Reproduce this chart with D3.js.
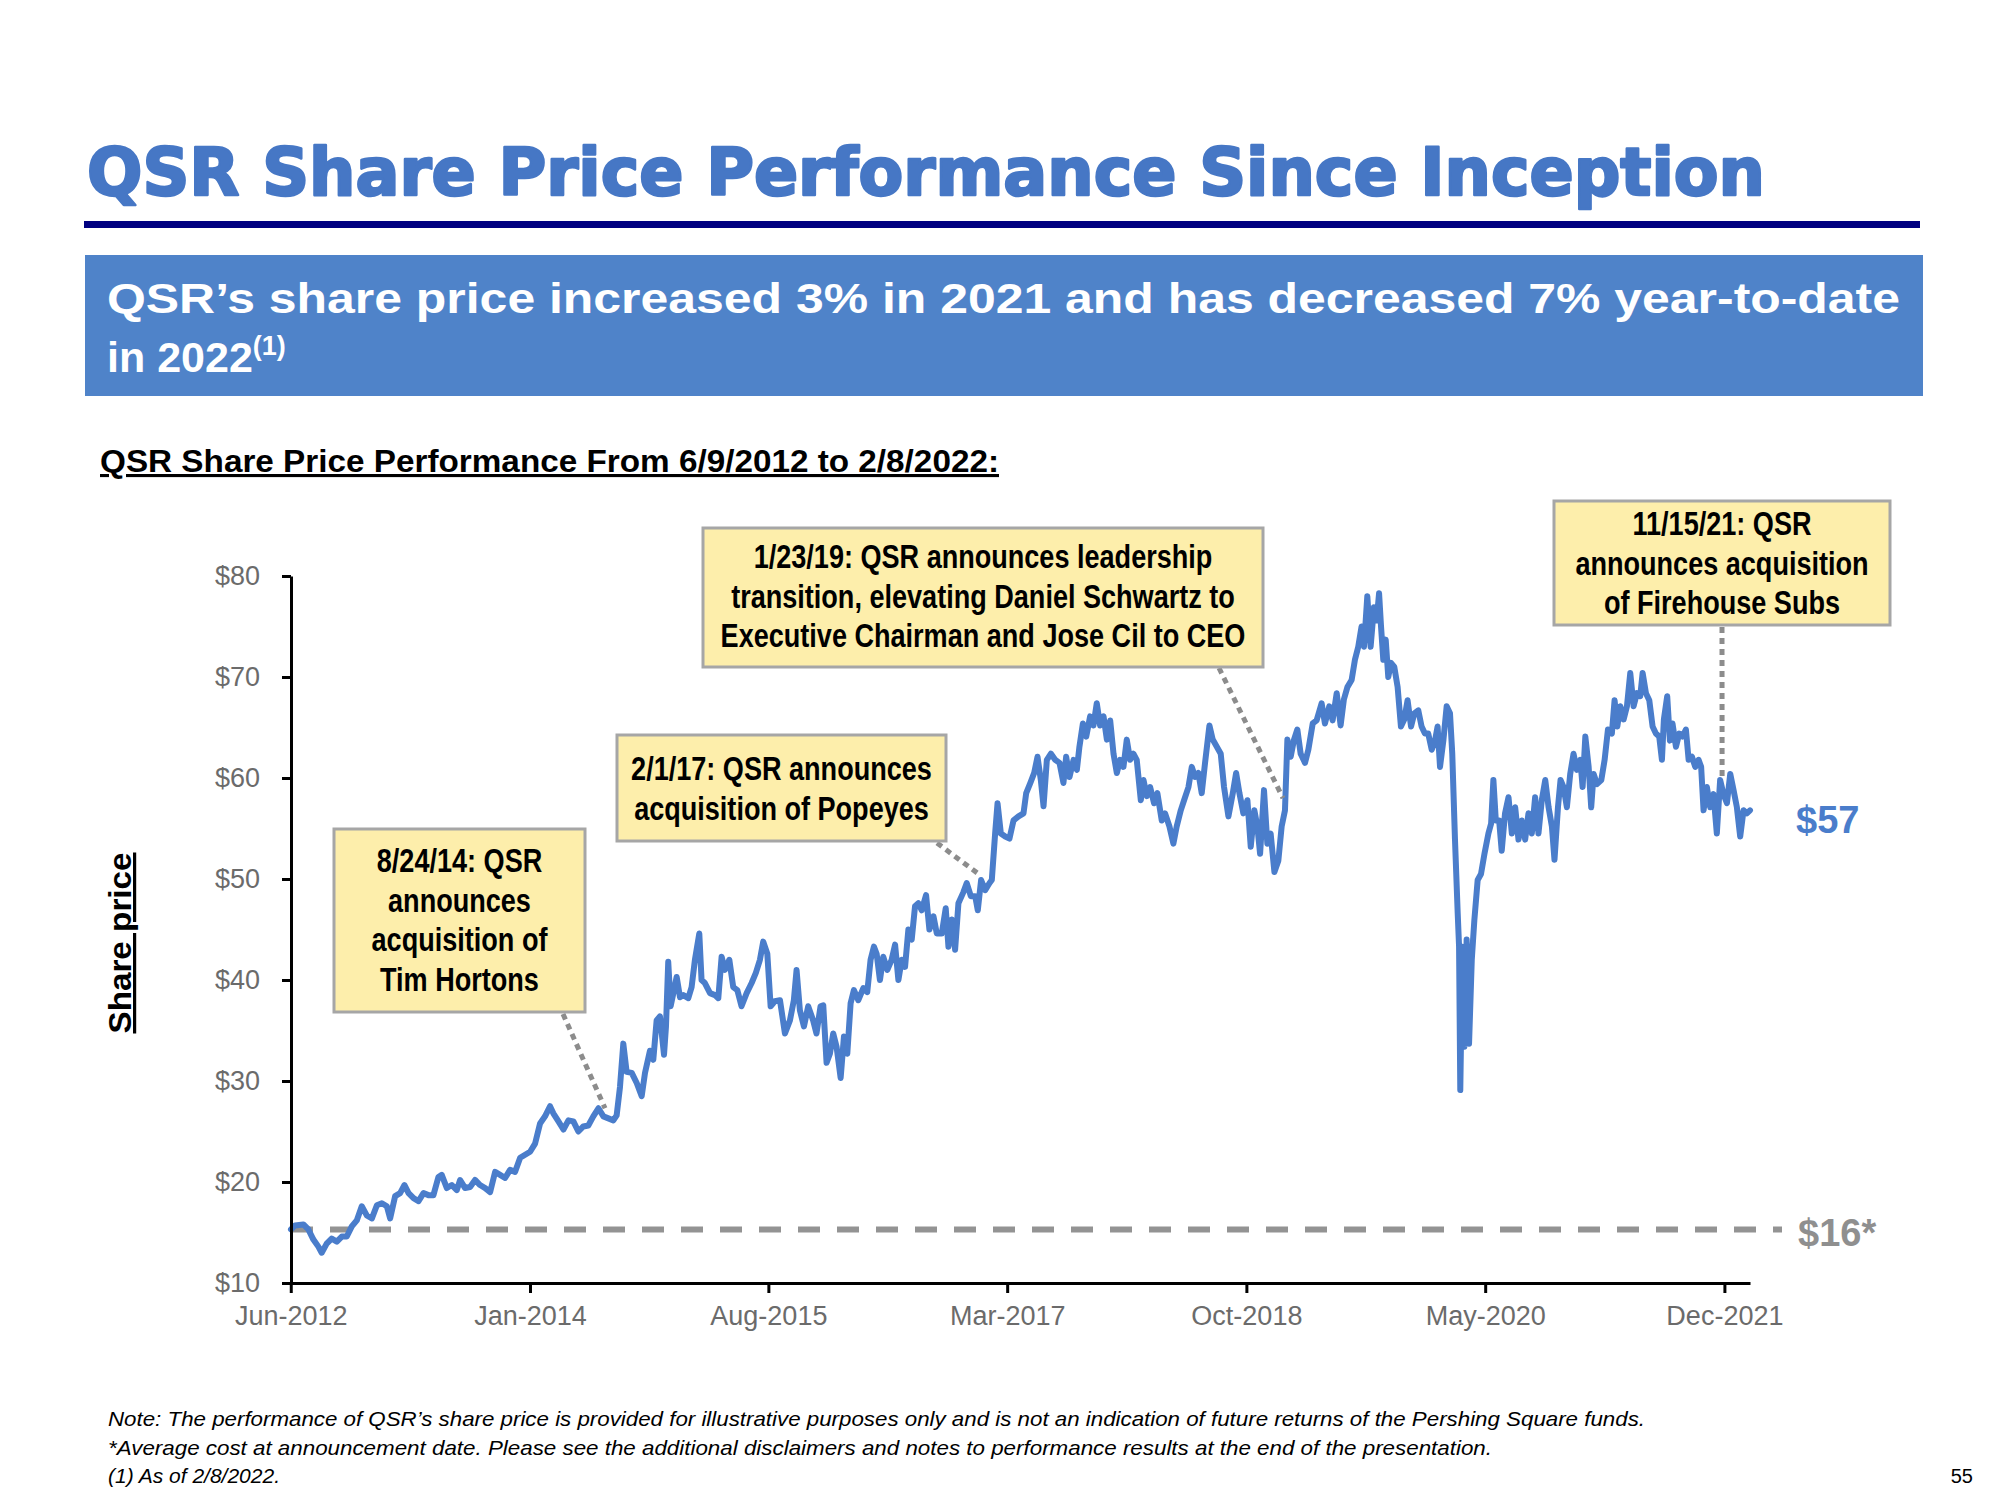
<!DOCTYPE html>
<html><head><meta charset="utf-8">
<script src="https://cdn.jsdelivr.net/npm/d3@7/dist/d3.min.js"></script>
<style>body{margin:0;background:#fff}</style>
</head><body>
<svg id="c" width="2000" height="1500" xmlns="http://www.w3.org/2000/svg"></svg>
<script>
// ---------- DATA ----------
// [decimal year, share price $]
const priceSeries = [
[2012.436,15.3],[2012.463,15.7],[2012.518,15.8],[2012.551,15.3],[2012.584,14.3],[2012.617,13.6],[2012.639,13.0],[2012.672,13.9],
[2012.705,14.4],[2012.739,14.1],[2012.772,14.6],[2012.805,14.6],[2012.838,15.6],[2012.871,16.2],[2012.904,17.6],[2012.937,16.7],
[2012.971,16.4],[2013.004,17.7],[2013.037,17.9],[2013.070,17.6],[2013.092,16.4],[2013.125,18.6],[2013.158,18.9],[2013.187,19.7],
[2013.214,18.9],[2013.247,18.4],[2013.280,18.1],[2013.313,18.9],[2013.346,18.7],[2013.379,18.7],[2013.412,20.5],[2013.434,20.7],
[2013.468,19.4],[2013.501,19.7],[2013.534,19.2],[2013.556,20.2],[2013.589,19.4],[2013.622,19.5],[2013.655,20.2],[2013.688,19.7],
[2013.722,19.4],[2013.755,19.0],[2013.788,21.0],[2013.821,20.7],[2013.854,20.4],[2013.887,21.2],[2013.920,21.0],[2013.954,22.4],
[2013.987,22.7],[2014.020,23.0],[2014.053,23.8],[2014.086,25.8],[2014.119,26.5],[2014.152,27.5],[2014.174,26.8],[2014.208,26.0],
[2014.241,25.2],[2014.274,26.1],[2014.307,26.0],[2014.340,25.0],[2014.373,25.5],[2014.406,25.6],[2014.439,26.5],[2014.473,27.3],
[2014.506,26.5],[2014.539,26.3],[2014.572,26.1],[2014.594,26.6],[2014.616,29.4],[2014.638,33.7],[2014.660,30.9],[2014.694,30.8],
[2014.727,29.8],[2014.760,28.5],[2014.782,30.8],[2014.815,33.0],[2014.837,32.1],[2014.859,36.0],[2014.881,36.4],[2014.908,32.6],
[2014.921,35.4],[2014.936,41.8],[2014.952,37.4],[2014.970,38.7],[2014.992,40.3],[2015.014,38.3],[2015.036,38.5],[2015.069,38.2],
[2015.091,39.3],[2015.113,42.0],[2015.142,44.6],[2015.157,40.0],[2015.179,39.7],[2015.213,38.7],[2015.246,38.5],[2015.268,38.2],
[2015.290,42.3],[2015.312,41.0],[2015.341,42.0],[2015.367,39.3],[2015.394,39.0],[2015.422,37.4],[2015.456,38.7],[2015.489,39.7],
[2015.517,40.7],[2015.544,42.0],[2015.566,43.8],[2015.593,42.6],[2015.615,37.4],[2015.643,37.9],[2015.677,38.0],[2015.710,34.7],
[2015.743,36.0],[2015.769,38.0],[2015.787,41.0],[2015.809,37.0],[2015.836,35.4],[2015.864,37.4],[2015.897,36.0],[2015.919,34.7],
[2015.946,37.4],[2015.964,37.5],[2015.986,31.8],[2016.008,32.7],[2016.030,34.7],[2016.052,33.4],[2016.079,30.3],[2016.101,34.4],
[2016.123,32.7],[2016.145,37.7],[2016.167,39.0],[2016.196,38.0],[2016.229,39.2],[2016.255,38.8],[2016.277,42.0],[2016.299,43.3],
[2016.317,42.6],[2016.339,40.0],[2016.361,42.3],[2016.388,41.0],[2016.416,42.0],[2016.439,43.5],[2016.461,40.0],[2016.483,42.0],
[2016.505,41.3],[2016.527,45.0],[2016.549,44.0],[2016.571,47.3],[2016.593,47.6],[2016.615,46.9],[2016.644,48.4],[2016.666,45.0],
[2016.693,46.3],[2016.715,44.6],[2016.748,44.6],[2016.774,47.1],[2016.792,43.3],[2016.814,46.0],[2016.836,43.0],[2016.858,47.6],
[2016.891,48.7],[2016.913,49.6],[2016.940,48.3],[2016.969,48.3],[2016.986,46.9],[2017.008,49.9],[2017.035,48.9],[2017.064,49.6],
[2017.079,49.9],[2017.101,54.5],[2017.117,57.5],[2017.139,54.5],[2017.168,54.2],[2017.196,54.0],[2017.223,55.8],[2017.256,56.2],
[2017.289,56.5],[2017.307,58.5],[2017.334,59.5],[2017.360,60.5],[2017.382,62.1],[2017.404,59.8],[2017.422,57.2],[2017.444,61.8],
[2017.471,62.4],[2017.499,61.8],[2017.528,61.5],[2017.554,59.5],[2017.572,62.1],[2017.594,60.1],[2017.621,61.8],[2017.643,60.8],
[2017.660,63.1],[2017.683,65.4],[2017.705,64.1],[2017.731,66.1],[2017.753,65.2],[2017.775,67.4],[2017.797,65.2],[2017.820,66.1],
[2017.842,63.8],[2017.864,65.7],[2017.886,62.4],[2017.908,60.5],[2017.930,61.8],[2017.952,61.1],[2017.974,63.8],[2017.996,61.8],
[2018.018,62.4],[2018.040,61.8],[2018.067,57.8],[2018.085,59.8],[2018.107,58.2],[2018.129,59.1],[2018.155,57.5],[2018.177,58.5],
[2018.206,55.8],[2018.228,56.5],[2018.257,55.2],[2018.283,53.5],[2018.305,55.2],[2018.332,56.8],[2018.354,57.8],[2018.383,59.1],
[2018.405,61.1],[2018.427,60.1],[2018.449,60.5],[2018.471,58.5],[2018.493,61.5],[2018.522,65.2],[2018.544,63.8],[2018.571,63.1],
[2018.597,62.4],[2018.619,59.1],[2018.648,56.2],[2018.677,58.5],[2018.699,60.5],[2018.721,58.5],[2018.747,56.5],[2018.774,57.8],
[2018.796,53.2],[2018.820,56.8],[2018.840,55.2],[2018.858,52.5],[2018.884,58.8],[2018.906,53.5],[2018.928,54.5],[2018.953,50.7],
[2018.979,51.8],[2019.001,55.2],[2019.023,56.8],[2019.039,63.8],[2019.061,62.1],[2019.083,63.8],[2019.105,64.8],[2019.127,62.4],
[2019.156,61.5],[2019.178,62.8],[2019.207,65.4],[2019.233,65.7],[2019.266,67.4],[2019.288,65.4],[2019.317,67.1],[2019.339,65.7],
[2019.366,68.4],[2019.392,65.2],[2019.414,67.8],[2019.437,69.0],[2019.465,69.7],[2019.487,71.7],[2019.509,73.0],[2019.531,75.0],
[2019.547,73.0],[2019.569,78.0],[2019.591,73.0],[2019.613,76.9],[2019.631,75.6],[2019.647,78.3],[2019.660,75.0],[2019.675,71.7],
[2019.691,73.7],[2019.708,70.0],[2019.726,71.4],[2019.748,71.0],[2019.770,69.0],[2019.792,65.1],[2019.814,65.8],[2019.836,67.7],
[2019.859,65.1],[2019.881,66.4],[2019.907,66.7],[2019.929,65.1],[2019.951,64.4],[2019.973,64.4],[2019.996,62.8],[2020.018,63.7],
[2020.035,65.1],[2020.051,61.1],[2020.073,63.7],[2020.095,67.1],[2020.117,66.4],[2020.132,62.4],[2020.150,53.9],[2020.168,46.6],
[2020.177,43.3],[2020.185,29.1],[2020.199,43.3],[2020.212,33.4],[2020.227,44.0],[2020.243,33.7],[2020.261,42.0],[2020.278,45.9],
[2020.300,49.9],[2020.322,50.5],[2020.345,52.5],[2020.371,54.5],[2020.389,55.5],[2020.404,59.8],[2020.420,55.8],[2020.442,55.8],
[2020.459,52.8],[2020.481,56.5],[2020.504,58.1],[2020.526,54.5],[2020.548,57.1],[2020.570,53.9],[2020.592,55.8],[2020.614,53.9],
[2020.636,56.5],[2020.658,54.5],[2020.680,58.1],[2020.702,54.5],[2020.724,57.8],[2020.747,59.8],[2020.769,57.1],[2020.791,55.2],
[2020.808,51.9],[2020.831,57.1],[2020.848,59.8],[2020.868,59.1],[2020.890,57.1],[2020.912,60.4],[2020.934,62.4],[2020.956,60.8],
[2020.979,61.8],[2020.994,59.1],[2021.012,64.1],[2021.034,61.1],[2021.051,57.1],[2021.067,60.4],[2021.089,59.4],[2021.118,59.8],
[2021.140,61.8],[2021.162,64.8],[2021.188,64.4],[2021.206,67.7],[2021.224,65.1],[2021.244,67.1],[2021.266,65.8],[2021.288,67.1],
[2021.310,70.4],[2021.332,67.1],[2021.354,68.4],[2021.376,68.1],[2021.392,70.4],[2021.414,68.4],[2021.436,67.7],[2021.458,65.1],
[2021.480,64.4],[2021.502,64.1],[2021.520,61.8],[2021.533,65.8],[2021.555,68.1],[2021.573,63.7],[2021.590,65.4],[2021.613,63.1],
[2021.635,64.4],[2021.657,64.1],[2021.679,64.8],[2021.697,61.8],[2021.719,62.1],[2021.741,61.1],[2021.763,61.8],[2021.780,61.1],
[2021.796,56.8],[2021.818,59.1],[2021.840,57.1],[2021.862,58.4],[2021.884,54.5],[2021.906,59.8],[2021.928,58.4],[2021.951,57.5],
[2021.973,60.4],[2021.995,58.8],[2022.017,57.1],[2022.039,54.2],[2022.061,56.8],[2022.083,56.5],[2022.104,56.8]
];
const yTickValues = [10,20,30,40,50,60,70,80];
const xTickDates = ["2012-06-08","2014-01-08","2015-08-08","2017-03-08","2018-10-08","2020-05-08","2021-12-08"];
const costBasis = 15.3;
const costLabel = "$16*";
const lastPriceLabel = "$57";
const annotationLines = [
  ["8/24/14: QSR","announces","acquisition of","Tim Hortons"],
  ["2/1/17: QSR announces","acquisition of Popeyes"],
  ["1/23/19: QSR announces leadership","transition, elevating Daniel Schwartz to","Executive Chairman and Jose Cil to CEO"],
  ["11/15/21: QSR","announces acquisition","of Firehouse Subs"]
];
const annotationTargets = [[2014.517,27.3],[2016.982,50.6],[2019.010,58.0],[2021.919,60.1]];
const titleText = "QSR Share Price Performance Since Inception";
const bannerLine1 = "QSR\u2019s share price increased 3% in 2021 and has decreased 7% year-to-date";
const bannerLine2 = "in 2022";
const bannerSup = "(1)";
const subtitleText = "QSR Share Price Performance From 6/9/2012 to 2/8/2022:";
const yLabelText = "Share price";
const footnotes = [
  "Note: The performance of QSR\u2019s share price is provided for illustrative purposes only and is not an indication of future returns of the Pershing Square funds.",
  "*Average cost at announcement date. Please see the additional disclaimers and notes to performance results at the end of the presentation.",
  "(1) As of 2/8/2022."
];
const pageNumber = "55";

// ---------- LAYOUT ----------
const plot = {left:291, right:1750, top:576, bottom:1283};
const boxes = [
  {x:334, y:829, w:251, h:183, ax:563, ay:1014, base:872},
  {x:617, y:735, w:329, h:106, ax:937, ay:843, base:780},
  {x:703, y:528, w:560, h:139, ax:1219, ay:668, base:568},
  {x:1554, y:501, w:336, h:124, ax:1722, ay:627, base:535}
];
const SANS = "'Liberation Sans', Arial, Helvetica, sans-serif";
const BLUE_LINE = "#4a7dcb";

const svg = d3.select("#c");
svg.append("rect").attr("width",2000).attr("height",1500).attr("fill","#fff");

function yearToDate(v){const yr=Math.floor(v);const s=Date.UTC(yr,0,1),e=Date.UTC(yr+1,0,1);return new Date(s+(v-yr)*(e-s));}
const data = priceSeries.map(d=>({date:yearToDate(d[0]), price:d[1]}));

const x = d3.scaleUtc().domain(d3.extent(data,d=>d.date)).range([plot.left, plot.right]);
const y = d3.scaleLinear().domain([10,80]).range([plot.bottom, plot.top]);

// ---------- HEADER ----------
svg.append("text").attr("x",87).attr("y",195).text(titleText)
  .attr("fill","#4677c5").attr("stroke","#4677c5").attr("stroke-width",2.5).attr("stroke-linejoin","round")
  .style("font","bold 66px 'DejaVu Sans', sans-serif")
  .attr("textLength",1678).attr("lengthAdjust","spacingAndGlyphs");
svg.append("rect").attr("x",84).attr("y",221).attr("width",1836).attr("height",7).attr("fill","#000080");
svg.append("rect").attr("x",85).attr("y",255).attr("width",1838).attr("height",141).attr("fill","#4f83c9");
svg.append("text").attr("x",107).attr("y",313).text(bannerLine1)
  .attr("fill","#fff").style("font","bold 43px "+SANS)
  .attr("textLength",1793).attr("lengthAdjust","spacingAndGlyphs");
const b2 = svg.append("text").attr("x",107).attr("y",372).attr("fill","#fff").style("font","bold 43px "+SANS);
b2.append("tspan").text(bannerLine2);
b2.append("tspan").attr("dy",-17).style("font-size","27px").text(bannerSup);

svg.append("text").attr("x",100).attr("y",472).text(subtitleText)
  .attr("fill","#000").style("font","bold 31px "+SANS).style("text-decoration","underline")
  .attr("textLength",899).attr("lengthAdjust","spacingAndGlyphs");

svg.append("text").attr("transform","translate(131,943) rotate(-90)").attr("text-anchor","middle")
  .text(yLabelText).attr("fill","#000").style("font","bold 32px "+SANS).style("text-decoration","underline")
  .attr("textLength",181).attr("lengthAdjust","spacingAndGlyphs");

// ---------- CHART ----------
svg.append("line").attr("x1",plot.left).attr("x2",1782).attr("y1",y(costBasis)).attr("y2",y(costBasis))
  .attr("stroke","#939393").attr("stroke-width",6).attr("stroke-dasharray","22,17");

svg.append("path").datum(data)
  .attr("d", d3.line().x(d=>x(d.date)).y(d=>y(d.price)))
  .attr("fill","none").attr("stroke",BLUE_LINE).attr("stroke-width",6)
  .attr("stroke-linejoin","round").attr("stroke-linecap","round");

const yAxis = svg.append("g").attr("transform",`translate(${plot.left},0)`)
  .call(d3.axisLeft(y).tickValues(yTickValues).tickFormat(d=>"$"+d).tickSize(9).tickSizeOuter(0).tickPadding(22));
const parseD = d3.utcParse("%Y-%m-%d");
const xAxis = svg.append("g").attr("transform",`translate(0,${plot.bottom})`)
  .call(d3.axisBottom(x).tickValues(xTickDates.map(parseD)).tickFormat(d3.utcFormat("%b-%Y")).tickSize(10).tickSizeOuter(0).tickPadding(13));
[yAxis,xAxis].forEach(g=>{
  g.select(".domain").attr("stroke","#000").attr("stroke-width",3);
  g.selectAll(".tick line").attr("stroke","#000").attr("stroke-width",3);
  g.selectAll(".tick text").attr("fill","#6b6b6b").style("font","27px "+SANS);
});

// end labels
svg.append("text").attr("x",1796).attr("y",833).text(lastPriceLabel)
  .attr("fill",BLUE_LINE).style("font","bold 38px "+SANS);
svg.append("text").attr("x",1798).attr("y",1246).text(costLabel)
  .attr("fill","#8f8f8f").style("font","bold 38px "+SANS);

// ---------- ANNOTATIONS ----------
const annFont = "bold 33px "+SANS;
boxes.forEach((b,i)=>{
  const t = annotationTargets[i];
  svg.append("line").attr("x1",b.ax).attr("y1",b.ay)
    .attr("x2",x(yearToDate(t[0]))).attr("y2",y(t[1]))
    .attr("stroke","#8c8c8c").attr("stroke-width",5).attr("stroke-dasharray","6,5");
  svg.append("rect").attr("x",b.x).attr("y",b.y).attr("width",b.w).attr("height",b.h)
    .attr("fill","#fdeeab").attr("stroke","#a6a6a6").attr("stroke-width",3);
  annotationLines[i].forEach((ln,j)=>{
    const tx = svg.append("text").attr("x",b.x+b.w/2).attr("y",b.base+j*39.5)
      .attr("text-anchor","middle").attr("fill","#000").style("font",annFont).text(ln);
    const w = tx.node().getComputedTextLength();
    tx.attr("textLength",w*0.82).attr("lengthAdjust","spacingAndGlyphs");
  });
});

// ---------- FOOTNOTES ----------
const fnY = [1426,1455,1483];
const fnW = [1537,1384,null];
footnotes.forEach((f,i)=>{
  const t = svg.append("text").attr("x",108).attr("y",fnY[i]).text(f)
    .attr("fill","#000").style("font","italic 21px "+SANS);
  if(fnW[i]) t.attr("textLength",fnW[i]).attr("lengthAdjust","spacingAndGlyphs");
});
svg.append("text").attr("x",1973).attr("y",1483).attr("text-anchor","end").text(pageNumber)
  .attr("fill","#000").style("font","20px "+SANS);
</script>
</body></html>
